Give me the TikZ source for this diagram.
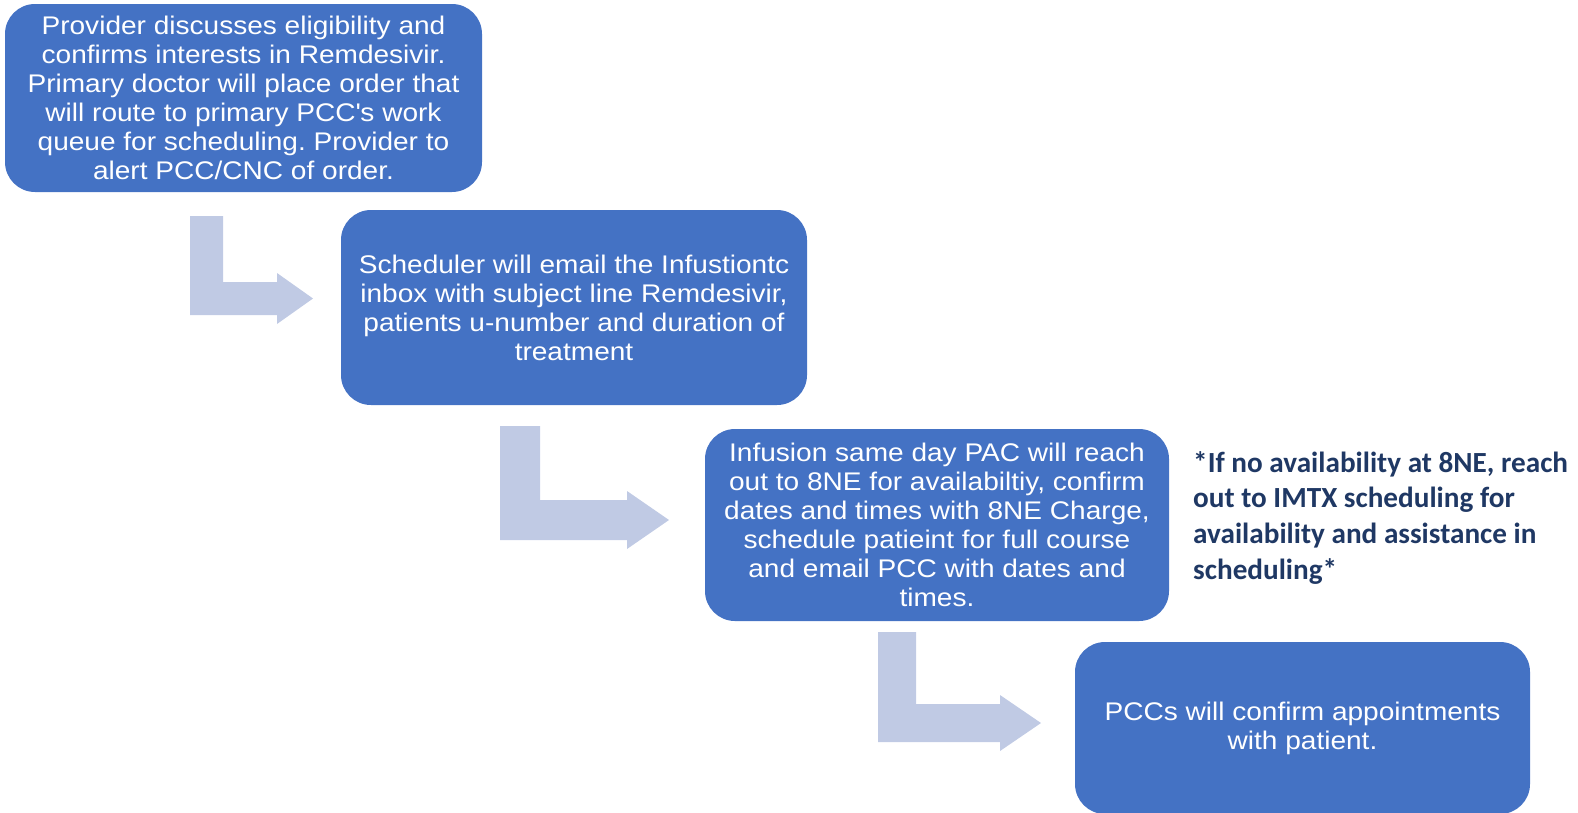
\documentclass[tikz,border=0pt]{standalone}
\usepackage{fontspec}
\setmainfont{Liberation Sans}[FakeStretch=1.1]
\newfontfamily\notefont{Carlito}
\usepackage{tikz}
\usepackage{color}
\frenchspacing

\definecolor{boxblue}{HTML}{4472C4}
\definecolor{arrowblue}{HTML}{C0CAE4}
\definecolor{notenavy}{HTML}{1F3864}

\tikzset{
    stepbox/.style={rectangle, rounded corners=30pt, fill=boxblue, draw=none,
        text=white, align=center, inner sep=0pt,
        font=\fontsize{25.5}{29}\selectfont},
}

% bent arrow: left x, top y, bar width, bottom y, head x, head overhang, tip x
\newcommand{\bentarr}[7]{%
    \fill[arrowblue] (#1,#2) -- ({#1+#3},#2) -- ({#1+#3},{#4-#3}) -- (#5,{#4-#3})
        -- (#5,{#4-#3-#6}) -- (#7,{#4-#3/2}) -- (#5,{#4+#6}) -- (#5,#4)
        -- (#1,#4) -- cycle;}

\begin{document}
\begin{tikzpicture}[x=1pt, y=-1pt]
    \useasboundingbox (0,0) rectangle (1578,812);

    % Schritte
    \node[stepbox, minimum width=477pt, minimum height=188pt] (provider) at (243.5,98)
        {Provider discusses eligibility and\\confirms interests in Remdesivir.\\Primary doctor will place order that\\will route to primary PCC\textquotesingle s work\\queue for scheduling. Provider to\\alert PCC/CNC of order.};
    \node[stepbox, minimum width=466pt, minimum height=195pt] (scheduler) at (574,307.5)
        {Scheduler will email the Infustiontc\\inbox with subject line Remdesivir,\\patients u-number and duration of\\treatment};
    \node[stepbox, minimum width=464pt, minimum height=192pt] (infusion) at (937,525)
        {Infusion same day PAC will reach\\out to 8NE for availabiltiy, confirm\\dates and times with 8NE Charge,\\schedule patieint for full course\\and email PCC with dates and\\times.};
    \node[stepbox, minimum width=455pt, minimum height=172pt] (pccs) at (1302.5,728)
        {PCCs will confirm appointments\\with patient.};

    % Hinweis
    \node[anchor=north west, align=left, inner sep=0pt, text=notenavy,
        font=\notefont\bfseries\fontsize{29.2}{35.7}\selectfont] (note) at (1193,451)
        {*If no availability at 8NE, reach\\out to IMTX scheduling for\\availability and assistance in\\scheduling*};

    % Pfeile
    \bentarr{190}{216}{33}{315}{277}{9}{313}
    \bentarr{500}{426}{40}{540}{627}{9}{669}
    \bentarr{878}{632}{38}{742}{1000}{9}{1041}
\end{tikzpicture}
\end{document}
